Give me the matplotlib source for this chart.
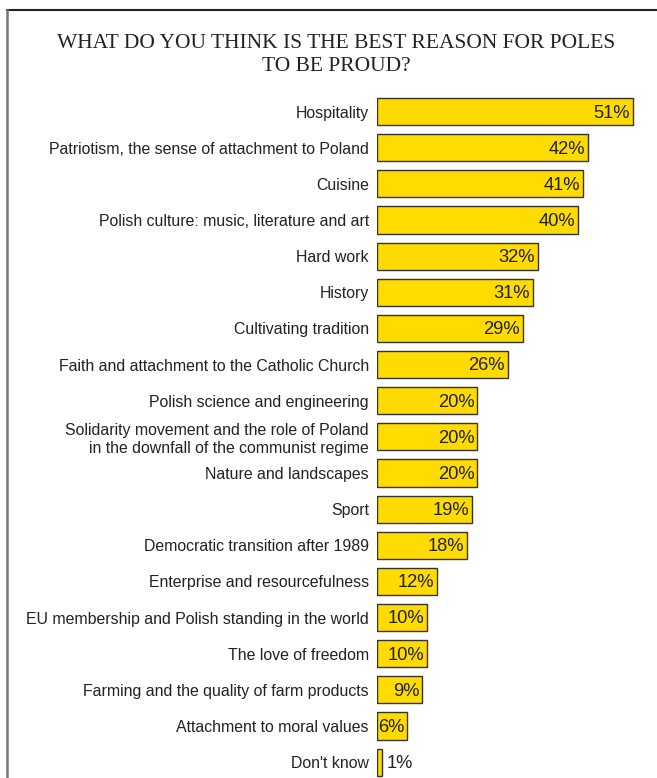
import matplotlib
matplotlib.use("Agg")
import matplotlib.pyplot as plt
from matplotlib.lines import Line2D

categories = [
    "Hospitality",
    "Patriotism, the sense of attachment to Poland",
    "Cuisine",
    "Polish culture: music, literature and art",
    "Hard work",
    "History",
    "Cultivating tradition",
    "Faith and attachment to the Catholic Church",
    "Polish science and engineering",
    "Solidarity movement and the role of Poland\nin the downfall of the communist regime",
    "Nature and landscapes",
    "Sport",
    "Democratic transition after 1989",
    "Enterprise and resourcefulness",
    "EU membership and Polish standing in the world",
    "The love of freedom",
    "Farming and the quality of farm products",
    "Attachment to moral values",
    "Don't know",
]
values = [51, 42, 41, 40, 32, 31, 29, 26, 20, 20, 20, 19, 18, 12, 10, 10, 9, 6, 1]
title = "WHAT DO YOU THINK IS THE BEST REASON FOR POLES\nTO BE PROUD?"

W, H = 657, 778
fig = plt.figure(figsize=(W / 100, H / 100), dpi=100)

# axes placement in pixels
left_px = 377
top_px = 93.5
spacing = 36.14
px_per_pct = 5.02
ax_w = W - left_px
ax_h = H - top_px
ax = fig.add_axes([left_px / W, 0, ax_w / W, ax_h / H])
ax.set_xlim(0, ax_w / px_per_pct)
ax.set_ylim(-0.5 + ax_h / spacing, -0.5)

ypos = list(range(len(categories)))
ax.barh(ypos, values, height=0.75, color="#FFDB00", edgecolor="#333333", linewidth=1.0)

for y, v in zip(ypos, values):
    if v >= 3:
        ax.text(v - 0.6, y + 0.04, f"{v}%", ha="right", va="center",
                fontsize=13.2, color="#222222", family="Liberation Sans")
    else:
        ax.text(v + 0.9, y + 0.04, f"{v}%", ha="left", va="center",
                fontsize=13.2, color="#222222", family="Liberation Sans")

ax.set_yticks(ypos)
ax.set_yticklabels(categories, fontsize=11.45, color="#222222", family="Liberation Sans",
                   linespacing=1.25)
ax.tick_params(axis="y", length=0, pad=5.8)
ax.set_xticks([])
for s in ax.spines.values():
    s.set_visible(False)

fig.text(336 / W, 1 - 55 / H, title, ha="center", va="center", fontsize=15.5,
         family="Liberation Serif", color="#222222", linespacing=1.3)

# frame lines
fig.add_artist(Line2D([6.5 / W, 1], [1 - 9.5 / H, 1 - 9.5 / H], color="#222222", lw=1.5,
                      transform=fig.transFigure))
fig.add_artist(Line2D([6.5 / W, 6.5 / W], [0, 1 - 9.5 / H], color="#777777", lw=1.8,
                      transform=fig.transFigure))

fig.savefig("out.png", dpi=100)
